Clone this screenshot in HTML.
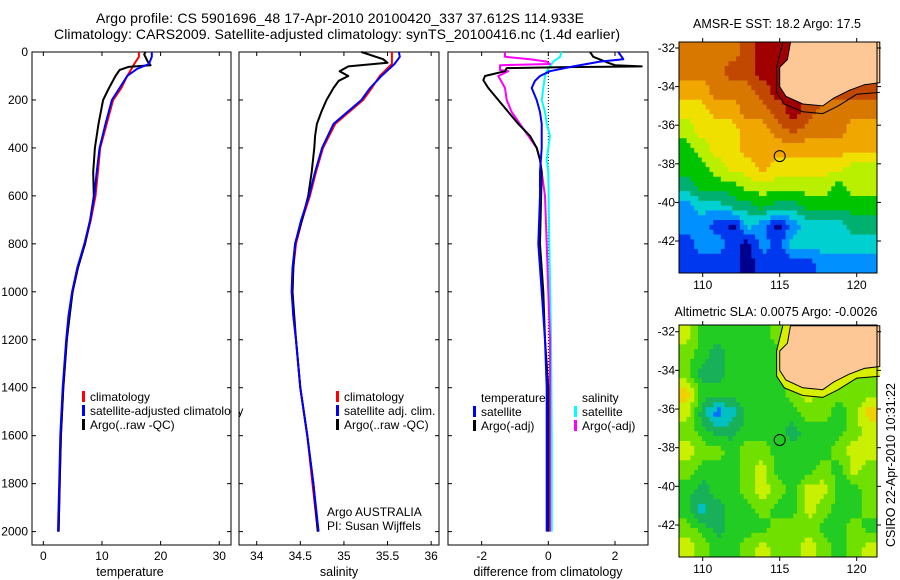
<!DOCTYPE html>
<html><head><meta charset="utf-8"><style>
html,body{margin:0;padding:0;background:#fff;}
svg{display:block;font-family:"Liberation Sans",sans-serif;}
text{fill:#000;}
</style></head><body>
<svg id="fig" width="900" height="580" viewBox="0 0 900 580">
<text x="340" y="23" font-size="14" text-anchor="middle" textLength="488">Argo profile: CS 5901696_48 17-Apr-2010 20100420_337 37.612S 114.933E</text>
<text x="337" y="39" font-size="14" text-anchor="middle" textLength="566">Climatology: CARS2009. Satellite-adjusted climatology: synTS_20100416.nc (1.4d earlier)</text>
<g id="plots"></g>
<text x="777" y="28" font-size="12.5" text-anchor="middle" textLength="168">AMSR-E SST: 18.2 Argo: 17.5</text>
<text x="776" y="316" font-size="12.5" text-anchor="middle" textLength="203">Altimetric SLA: 0.0075 Argo: -0.0026</text>
<text transform="translate(895,465) rotate(-90)" font-size="12.5" text-anchor="middle" textLength="164">CSIRO 22-Apr-2010 10:31:22</text>
</svg>
<script>
// ---------- data ----------
const depthTicks=[0,200,400,600,800,1000,1200,1400,1600,1800,2000];
const tempTicks=[0,10,20,30];
const salTicks=[34,34.5,35,35.5,36];
const diffTicks=[-2,0,2];
const lonTicks=[110,115,120];
const latTicks=[-32,-34,-36,-38,-40,-42];

const tClimDepth=[0,20,50,80,100,150,200,300,400,500,600,700,800,900,1000,1100,1200,1400,1600,1800,2000];
const tClimVal=[16.3,16.3,15.5,14.8,14.3,13.3,11.9,10.8,9.7,9.3,8.9,8.1,7.1,5.9,5.0,4.4,4.0,3.4,3.0,2.8,2.6];
const tSatDepth=[0,20,50,70,100,150,200,300,400,500,600,700,800,900,1000,1100,1200,1400,1600,1800,2000];
const tSatVal=[18.5,18.5,18.0,16.0,14.3,13.0,11.7,10.6,9.6,9.1,8.7,8.0,7.0,5.8,4.9,4.3,3.9,3.3,2.9,2.7,2.5];
const tArgoDepth=[0,10,40,55,62,75,100,150,200,300,400,500,600,700,800,900,1000,1200,1400,1600,1800,2000];
const tArgoVal=[17.4,17.2,17.8,18.3,14.5,13.0,12.3,11.2,10.2,9.4,8.8,8.5,8.6,8.0,7.1,5.9,5.0,4.0,3.4,3.0,2.8,2.6];

const sClimDepth=[0,50,100,150,200,300,400,500,600,700,800,900,1000,1100,1200,1400,1600,1800,2000];
const sClimVal=[35.55,35.55,35.41,35.32,35.22,34.9,34.76,34.68,34.61,34.52,34.45,34.42,34.41,34.42,34.45,34.5,34.58,34.64,34.7];
const sSatDepth=[0,20,50,100,150,200,300,400,500,600,700,800,900,1000,1100,1200,1400,1600,1800,2000];
const sSatVal=[35.63,35.64,35.58,35.43,35.3,35.2,34.88,34.75,34.67,34.6,34.51,34.44,34.41,34.4,34.42,34.45,34.5,34.58,34.65,34.71];
const sArgoDepth=[0,30,45,60,80,100,120,150,200,250,300,350,400,500,600,700,800,900,1000,1200,1400,1600,1800,2000];
const sArgoVal=[35.2,35.45,35.5,35.05,34.95,35.05,34.94,34.88,34.8,34.74,34.69,34.67,34.66,34.63,34.59,34.52,34.44,34.42,34.41,34.45,34.5,34.58,34.65,34.7];

const dTsDepth=[0,20,30,40,60,80,100,120,150,200,250,300,400,500,600,800,1000,1200,1400,2000];
const dTsVal=[2.1,2.2,2.25,1.55,0.75,0.05,-0.25,-0.4,-0.5,-0.35,-0.25,-0.2,-0.2,-0.25,-0.25,-0.3,-0.2,-0.1,-0.05,-0.05];
const dTaDepth=[0,20,45,55,60,63,67,80,100,117,150,200,250,300,350,400,450,500,800,1000,1200,1400,2000];
const dTaVal=[1.25,1.35,1.8,2.0,2.8,0.5,-1.25,-1.3,-1.9,-1.95,-1.8,-1.5,-1.2,-0.9,-0.55,-0.35,-0.25,-0.2,-0.25,-0.15,-0.1,0,0];
const dSsDepth=[0,20,40,60,80,100,150,200,250,300,350,400,450,500,800,1200,1600,2000];
const dSsVal=[0.4,0.35,0.15,0.05,-0.05,-0.1,-0.15,-0.2,-0.1,-0.05,0.05,0,-0.05,0,0.03,0.08,0.1,0.1];
const dSaDepth=[0,20,30,40,50,55,75,80,100,150,200,250,300,350,400,450,500,600,800,1000,1200,1600,2000];
const dSaVal=[-1.3,-1.3,-0.55,-0.05,0.05,-1.45,-1.45,-1.2,-1.5,-1.3,-1.25,-1.1,-0.85,-0.6,-0.35,-0.25,-0.2,-0.1,-0.05,0,0.05,0.05,0.05];

const sstGrid=[
[9,9,9,9,10,11,11,11,11,11,11,11,11],
[9,9,9,10,10,11,11,11,11,11,11,11,11],
[8,8,9,9,9,10,11,11,11,10,10,10,10],
[7,7,8,8,9,9,10,11,10,9,9,9,9],
[6,7,7,7,8,8,9,10,9,9,9,8,8],
[5,6,7,7,8,8,8,8,8,8,8,8,8],
[5,5,6,7,7,8,7,7,7,7,7,6,6],
[4,5,5,5,6,6,6,6,6,6,5,6,6],
[2,3,3,4,4,5,4,4,5,5,5,5,5],
[2,2,1,0,3,2,0,2,3,3,3,4,4],
[1,2,2,1,0,2,1,3,3,3,3,3,3],
[1,1,1,1,0,1,1,1,1,2,2,2,2]];
const slaGrid=[
[5,3,3,3,3,3,4,5,5,4,4,4,4],
[4,3,2,3,3,3,3,4,4,4,4,4,4],
[4,2,2,3,3,3,3,4,5,4,4,4,4],
[6,3,3,3,3,3,3,4,5,4,4,4,4],
[5,2,0,1,3,3,3,3,4,4,3,4,6],
[4,3,2,2,3,3,3,2,3,3,3,4,5],
[5,4,4,3,4,4,3,3,3,3,4,5,5],
[4,3,3,3,4,5,3,3,3,4,3,5,4],
[3,2,3,3,4,5,4,3,5,5,3,3,4],
[3,1,2,3,3,4,3,3,5,4,3,3,4],
[4,3,2,3,3,3,4,4,4,3,3,4,3],
[5,4,3,3,4,5,4,4,5,4,3,4,5]];
const sstColors=['#00008f','#0038f0','#0090ff','#00d0d0','#00b070','#00c400','#b8f000','#f0e000','#f0a800','#d87800','#c04800','#a00000'];
const slaColors=['#0070ff','#00c0c0','#18b058','#22cc22','#70e000','#c8f000','#f0d000'];
const landLon=[115.7,115.5,115.0,115.0,115.4,116.5,117.8,118.5,119.5,120.5,121.5,121.5];
const landLat=[-31.69,-32.6,-33.0,-34.0,-34.5,-34.9,-35.0,-34.6,-34.2,-33.9,-33.8,-31.69];
const isoLon=[115.2,114.8,114.8,115.3,116.5,117.8,118.8,120.0,121.5];
const isoLat=[-31.69,-33.0,-34.3,-34.9,-35.3,-35.4,-35.0,-34.4,-34.3];
const argoLon=115.0, argoLat=-37.6;

// ---------- helpers ----------
const NS='http://www.w3.org/2000/svg';
const root=document.getElementById('plots');
function mk(tag,attrs,parent){const e=document.createElementNS(NS,tag);for(const k in attrs)e.setAttribute(k,attrs[k]);(parent||root).appendChild(e);return e;}
const PT=52,PB=545;
const yD=d=>PT+d*0.2398;

function panel(name,x0,x1,vmin,vmax,ticks,label,labelX){
  const g=mk('g',{});
  
  
  const xs=v=>x0+(v-vmin)/(vmax-vmin)*(x1-x0);
  const fr=mk('rect',{x:x0,y:PT,width:x1-x0,height:PB-PT,fill:'none',stroke:'#000','stroke-width':1},g);
  
  
  ticks.forEach(t=>{
    const x=xs(t);
    mk('line',{x1:x,x2:x,y1:PT,y2:PT+4,stroke:'#000'},g);
    mk('line',{x1:x,x2:x,y1:PB,y2:PB-4,stroke:'#000'},g);
    const tx=mk('text',{x:x,y:PB+15,'font-size':12,'text-anchor':'middle'},g);
    tx.textContent=String(t);
    
    
  });
  depthTicks.forEach(d=>{
    mk('line',{x1:x0,x2:x0+4,y1:yD(d),y2:yD(d),stroke:'#000'},g);
    mk('line',{x1:x1,x2:x1-4,y1:yD(d),y2:yD(d),stroke:'#000'},g);
  });
  const lt=mk('text',{x:labelX,y:576,'font-size':12.5,'text-anchor':'middle'},g);
  lt.textContent=label;
  
  
  return {g,xs};
}
function series(p,dep,val,color,name){
  const pts=dep.map((d,i)=>p.xs(val[i]).toFixed(1)+','+yD(d).toFixed(1)).join(' ');
  const l=mk('polyline',{points:pts,fill:'none',stroke:color,'stroke-width':2,'stroke-linejoin':'round'},p.g);
  
  
}
function legend(g,x,y,color,label,name){
  const r=mk('rect',{x:x,y:y-10,width:3,height:11,fill:color},g);
  
  
  const t=mk('text',{x:x+8,y:y,'font-size':12},g);
  t.textContent=label;
  
  
}

depthTicks.forEach(d=>{
  const t=mk('text',{x:28,y:yD(d)+4,'font-size':12,'text-anchor':'end'});
  t.textContent=String(d);
  
  
});

const p1=panel('temperature-panel',32,231,-1.93,32.0,tempTicks,'temperature',130);
series(p1,tClimDepth,tClimVal,'#ff0000','temp-climatology-line');
series(p1,tArgoDepth,tArgoVal,'#000000','temp-argo-line');
series(p1,tSatDepth,tSatVal,'#0000ff','temp-satellite-line');
legend(p1.g,82,401,'#f00','climatology','legend-climatology');
legend(p1.g,82,415,'#00f','satellite-adjusted climatology','legend-satellite-adjusted');
legend(p1.g,82,429,'#000','Argo(..raw -QC)','legend-argo');
mk('rect',{x:231.5,y:380,width:7,height:60,fill:'#fff'});

const p2=panel('salinity-panel',239,439,33.797,36.09,salTicks,'salinity',339);
series(p2,sClimDepth,sClimVal,'#ff0000','sal-climatology-line');
series(p2,sArgoDepth,sArgoVal,'#000000','sal-argo-line');
series(p2,sSatDepth,sSatVal,'#0000ff','sal-satellite-line');
legend(p2.g,336,401,'#f00','climatology','legend-sal-climatology');
legend(p2.g,336,415,'#00f','satellite adj. clim.','legend-sal-satellite');
legend(p2.g,336,429,'#000','Argo(..raw -QC)','legend-sal-argo');
const a1=mk('text',{x:327,y:516,'font-size':12},p2.g);a1.textContent='Argo AUSTRALIA';


const a2=mk('text',{x:327,y:530,'font-size':12},p2.g);a2.textContent='PI: Susan Wijffels';



const p3=panel('difference-panel',448,648,-3.01,2.99,diffTicks,'difference from climatology',548);
mk('line',{x1:p3.xs(0),x2:p3.xs(0),y1:PT,y2:yD(1400),stroke:'#000','stroke-dasharray':'1,2'},p3.g);
series(p3,dSsDepth,dSsVal,'#00ffff','diff-sal-satellite-line');
series(p3,dSaDepth,dSaVal,'#ff00ff','diff-sal-argo-line');
series(p3,dTaDepth,dTaVal,'#000000','diff-temp-argo-line');
series(p3,dTsDepth,dTsVal,'#0000ff','diff-temp-satellite-line');
const lt1=mk('text',{x:481,y:402,'font-size':12},p3.g);lt1.textContent='temperature';


const lt2=mk('text',{x:582,y:402,'font-size':12},p3.g);lt2.textContent='salinity';


legend(p3.g,473,416,'#00f','satellite','legend-diff-temp-satellite');
legend(p3.g,473,430,'#000','Argo(-adj)','legend-diff-temp-argo');
legend(p3.g,574,416,'#0ff','satellite','legend-diff-sal-satellite');
legend(p3.g,574,430,'#f0f','Argo(-adj)','legend-diff-sal-argo');

// ---------- maps ----------
function sample(grid,fr,fc){
  const R=grid.length,C=grid[0].length;
  let r=Math.max(0,Math.min(R-1,fr)),c=Math.max(0,Math.min(C-1,fc));
  const r0=Math.floor(r),c0=Math.floor(c),r1=Math.min(R-1,r0+1),c1=Math.min(C-1,c0+1);
  const tr=r-r0,tc=c-c0;
  return grid[r0][c0]*(1-tr)*(1-tc)+grid[r0][c1]*(1-tr)*tc+grid[r1][c0]*tr*(1-tc)+grid[r1][c1]*tr*tc;
}
function map(name,grid,colors,y0,y1,latY32,latY42,withBand){
  const x0=679,x1=877;
  const lonX=l=>702.7+(l-110)*15.4;
  const latY=l=>latY32+(l+32)/(-10)*(latY42-latY32);
  const g=mk('g',{});
  
  
  const rows=grid.length, cols=grid[0].length, S=4;
  const cw=(x1-x0)/(cols*S), ch=(y1-y0)/(rows*S);
  for(let r=0;r<rows*S;r++)for(let c=0;c<cols*S;c++){
    const v=sample(grid,(r+0.5)/S-0.5,(c+0.5)/S-0.5);
    const idx=Math.max(0,Math.min(colors.length-1,Math.round(v)));
    const cell=mk('rect',{x:(x0+c*cw).toFixed(2),y:(y0+r*ch).toFixed(2),width:(cw+0.5).toFixed(2),height:(ch+0.5).toFixed(2),fill:colors[idx]},g);
    
    
  }
  const iso=isoLon.map((l,i)=>lonX(l).toFixed(1)+','+latY(isoLat[i]).toFixed(1));
  if(withBand){
    const band=mk('polygon',{points:iso.join(' ')+' '+x1+','+y0,fill:'#d8f000'},g);
    
    
  }
  const isl=mk('polyline',{points:iso.join(' '),fill:'none',stroke:'#000','stroke-width':1},g);
  
  
  const land=mk('polygon',{points:landLon.map((l,i)=>lonX(l).toFixed(1)+','+latY(landLat[i]).toFixed(1)).join(' '),fill:'#fdc896',stroke:'#000','stroke-width':1},g);
  
  
  const circ=mk('circle',{cx:lonX(argoLon),cy:latY(argoLat),r:5.5,fill:'none',stroke:'#000','stroke-width':1},g);
  
  
  mk('rect',{x:x0,y:y0,width:x1-x0,height:y1-y0,fill:'none',stroke:'#000'},g);
  lonTicks.forEach(l=>{
    const x=lonX(l);
    mk('line',{x1:x,x2:x,y1:y0-4,y2:y0,stroke:'#000'},g);
    mk('line',{x1:x,x2:x,y1:y1,y2:y1+4,stroke:'#000'},g);
    const t=mk('text',{x:x,y:y1+16,'font-size':12,'text-anchor':'middle'},g);
    t.textContent=String(l);
    
    
  });
  latTicks.forEach(l=>{
    const y=latY(l);
    mk('line',{x1:x0-4,x2:x0,y1:y,y2:y,stroke:'#000'},g);
    mk('line',{x1:x1,x2:x1+4,y1:y,y2:y,stroke:'#000'},g);
    const t=mk('text',{x:675,y:y+4,'font-size':12,'text-anchor':'end'},g);
    t.textContent=String(l);
    
    
  });
}
map('sst-map',sstGrid,sstColors,42,273,48,241,false);
map('sla-map',slaGrid,slaColors,325,557,331.7,525,true);
</script>
</body></html>
